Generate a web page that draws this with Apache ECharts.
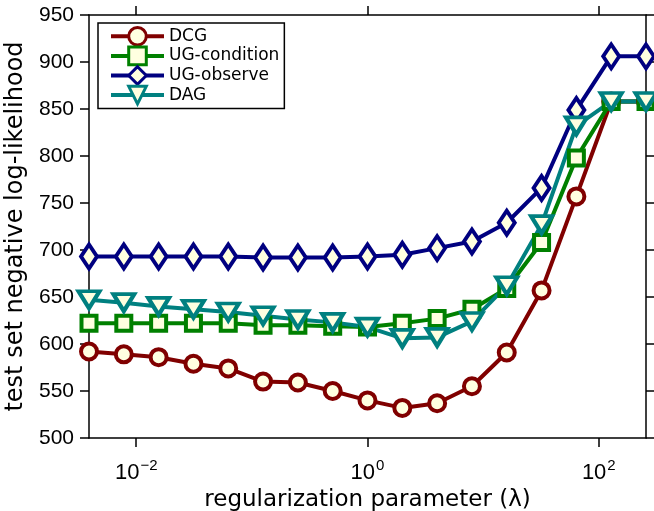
<!DOCTYPE html>
<html>
<head>
<meta charset="utf-8">
<script src="https://cdn.jsdelivr.net/npm/echarts@6/dist/echarts.min.js"></script>
<style>
  html, body { margin: 0; padding: 0; background: #fff; }
  #chart { width: 654px; height: 511px; }
</style>
</head>
<body>
<div id="chart"></div>
<script>
// 正则化参数 λ (2^-8 ... 2^8)
let lambdas = [0.00390625, 0.0078125, 0.015625, 0.03125, 0.0625, 0.125, 0.25, 0.5, 1, 2, 4, 8, 16, 32, 64, 128, 256]
// 各模型的测试集负对数似然
let dcg = [592, 589, 586, 579, 574, 560, 559, 550, 540, 532, 537, 555, 591, 657, 757, 858, 858]
let ugCondition = [622, 622, 622, 622, 622, 620, 620, 619, 618, 622, 627, 637, 659, 708, 798, 858, 858]
let ugObserve = [693, 693, 693, 693, 693, 692, 692, 692, 693, 695, 702, 709, 729, 766, 849, 906, 906]
let dag = [647, 644, 640, 637, 634, 630, 626, 623, 618, 606, 607, 624, 662, 727, 832, 858, 858]
// 刻度
let xTicks = [0.01, 1, 100]
let yMin = 500, yMax = 950, yStep = 50

let font = 'DejaVu Sans'
let numFont = 'Liberation Sans'

function pairs(ys) {
    return ys.map(function (y, i) { return [lambdas[i], y] })
}

function lineSeries(name, ys, color, symbol, size, rotate) {
    return {
        name: name,
        type: 'line',
        data: pairs(ys),
        symbol: symbol,
        symbolSize: size,
        symbolRotate: rotate || 0,
        showAllSymbol: true,
        clip: false,
        lineStyle: { color: color, width: 4 },
        itemStyle: { color: '#ffffe0', borderColor: color, borderWidth: 4 },
        emphasis: { disabled: true },
        animation: false
    }
}

let axisLine = { show: true, onZero: false, lineStyle: { color: '#000', width: 1.5 } }
let axisTick = { show: true, length: 9, lineStyle: { color: '#000', width: 1.5 } }

let myChart = echarts.init(document.getElementById('chart'))
let option = {
    backgroundColor: '#fff',
    animation: false,
    grid: { left: 89, right: 8, top: 15, bottom: 73, containLabel: false, outerBoundsMode: 'none' },
    legend: {
        orient: 'vertical',
        left: 98,
        top: 23,
        padding: [3, 5, 3, 11],
        itemWidth: 53,
        itemHeight: 22,
        itemGap: -1,
        borderColor: '#000',
        borderWidth: 1.5,
        backgroundColor: '#fff',
        selectedMode: false,
        itemStyle: { borderWidth: 3 },
        lineStyle: { width: 4 },
        textStyle: { fontFamily: font, fontSize: 17, color: '#000' },
        data: ['DCG', 'UG-condition', 'UG-observe', 'DAG']
    },
    xAxis: [{
        type: 'log',
        logBase: 10,
        min: lambdas[0],
        max: lambdas[lambdas.length - 1],
        position: 'bottom',
        axisLine: axisLine,
        axisTick: Object.assign({ customValues: xTicks }, axisTick),
        splitLine: { show: false },
        axisLabel: {
            customValues: xTicks,
            margin: 20,
            formatter: function (v) {
                let e = Math.round(Math.log10(v))
                return '{b|10}{s|' + (e < 0 ? '\u2212' + (-e) : e) + '}'
            },
            rich: {
                b: { fontFamily: numFont, fontSize: 22, color: '#000' },
                s: { fontFamily: numFont, fontSize: 15, color: '#000', padding: [0, 0, 14, 1] }
            }
        },
        name: 'regularization parameter (\u03bb)',
        nameLocation: 'middle',
        nameGap: 51,
        nameTextStyle: { fontFamily: font, fontSize: 23, color: '#000' }
    }, {
        type: 'log',
        logBase: 10,
        min: lambdas[0],
        max: lambdas[lambdas.length - 1],
        position: 'top',
        axisLine: axisLine,
        axisTick: Object.assign({ customValues: xTicks }, axisTick),
        axisLabel: { show: false },
        splitLine: { show: false }
    }],
    yAxis: [{
        type: 'value',
        min: yMin,
        max: yMax,
        interval: yStep,
        position: 'left',
        axisLine: axisLine,
        axisTick: axisTick,
        splitLine: { show: false },
        axisLabel: { fontFamily: numFont, fontSize: 21, color: '#000', margin: 15 },
        name: 'test set negative log-likelihood',
        nameLocation: 'middle',
        nameGap: 56,
        nameTextStyle: { fontFamily: font, fontSize: 24, color: '#000' }
    }, {
        type: 'value',
        min: yMin,
        max: yMax,
        interval: yStep,
        position: 'right',
        axisLine: axisLine,
        axisTick: axisTick,
        axisLabel: { show: false },
        splitLine: { show: false }
    }],
    series: [
        lineSeries('DCG', dcg, '#800000', 'circle', 16),
        lineSeries('UG-condition', ugCondition, '#008000', 'rect', 15),
        lineSeries('UG-observe', ugObserve, '#000080', 'diamond', [16, 24]),
        lineSeries('DAG', dag, '#008080', 'triangle', [21, 17], 180)
    ]
}
myChart.setOption(option)
</script>
</body>
</html>
